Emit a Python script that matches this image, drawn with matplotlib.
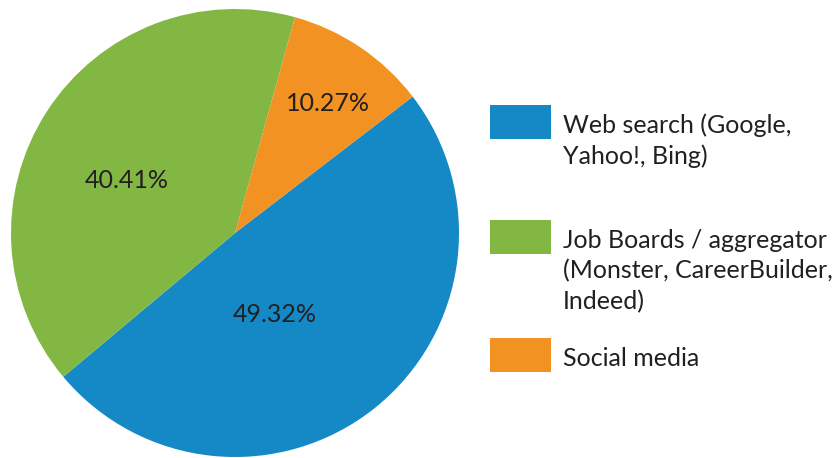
import matplotlib
matplotlib.use("Agg")
import matplotlib.pyplot as plt
from matplotlib.patches import Rectangle

# Share of job-search channels
categories = ["Web search (Google,\nYahoo!, Bing)",
              "Job Boards / aggregator\n(Monster, CareerBuilder,\nIndeed)",
              "Social media"]
shares = [49.32, 40.41, 10.27]
colors = ["#1589c6", "#82b744", "#f29222"]

# where each percentage sits inside its wedge (fraction of radius, x/y)
label_xy = [(0.179, -0.362), (-0.482, 0.234), (0.413, 0.580)]

FONT = "Lato"
TEXT_COLOR = "#231f20"
FS = 18

W, H = 835, 458
fig = plt.figure(figsize=(W / 100, H / 100), dpi=100)

# pie: centre (235, 233) px, radius 224 px
cx, cy, r = 235, 233, 224
ax = fig.add_axes([(cx - r) / W, (H - cy - r) / H, 2 * r / W, 2 * r / H])
ax.pie(shares, colors=colors, startangle=37.5, counterclock=False,
       radius=1.0, wedgeprops=dict(linewidth=0))
ax.set_xlim(-1, 1)
ax.set_ylim(-1, 1)
ax.set_aspect("auto")
ax.axis("off")

for val, (lx, ly) in zip(shares, label_xy):
    ax.text(lx, ly, f"{val:.2f}%", ha="center", va="center",
            fontsize=FS, family=FONT, color=TEXT_COLOR)

# legend drawn in pixel coordinates
lg = fig.add_axes([0, 0, 1, 1])
lg.set_xlim(0, W)
lg.set_ylim(H, 0)
lg.axis("off")
lg.patch.set_alpha(0)

swatch_top = [105, 220, 338]
for label, col, top in zip(categories, colors, swatch_top):
    lg.add_patch(Rectangle((490, top), 61, 34, facecolor=col, edgecolor="none"))
    for i, line in enumerate(label.split("\n")):
        lg.text(563, top + 28 + 30.5 * i, line, ha="left", va="baseline",
                fontsize=FS, family=FONT, color=TEXT_COLOR)

fig.savefig("out.png", dpi=100)
